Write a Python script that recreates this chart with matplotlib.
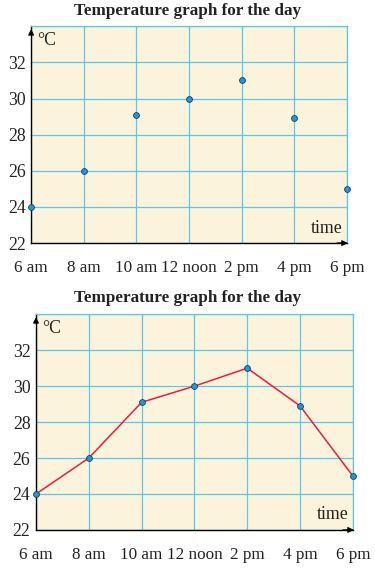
import matplotlib
matplotlib.use("Agg")
import matplotlib.pyplot as plt

# data
times = ["6 am", "8 am", "10 am", "12 noon", "2 pm", "4 pm", "6 pm"]
temps = [24, 26, 29.1, 30, 31, 28.9, 25]
y_ticks = [22, 24, 26, 28, 30, 32]
title = "Temperature graph for the day"

plt.rcParams['font.family'] = ['Liberation Serif', 'DejaVu Serif']

bg = "#fcf3dc"
grid_c = "#5ec4ec"
dot_c = "#1f9ad6"
line_c = "#e5203c"
fs = 12.3


def draw_panel(ax, with_line):
   x = list(range(len(times)))
   ax.set_facecolor(bg)
   ax.set_xlim(0, len(times) - 1)
   ax.set_ylim(22, 34)
   ax.set_xticks(x)
   ax.set_xticklabels(times, fontsize=fs)
   ax.set_yticks(y_ticks + [34])
   ax.set_yticklabels([str(v) for v in y_ticks] + [""], fontsize=fs + 0.5)
   ax.tick_params(length=0, colors="#222222")
   ax.tick_params(axis="x", pad=12)
   ax.tick_params(axis="y", pad=4)
   ax.grid(True, color=grid_c, linewidth=0.9)
   ax.set_axisbelow(True)
   for s in ["top", "right"]:
      ax.spines[s].set_color(grid_c)
      ax.spines[s].set_linewidth(0.9)
   for s in ["left", "bottom"]:
      ax.spines[s].set_color("black")
      ax.spines[s].set_linewidth(1.0)
   if with_line:
      ax.plot(x, temps, color=line_c, linewidth=1.1, zorder=3, clip_on=False)
   ax.plot(x, temps, linestyle="none", marker="o", markersize=4.2,
           markerfacecolor=dot_c, markeredgecolor="#163a5c",
           markeredgewidth=0.6, zorder=4, clip_on=False)
   # axis arrows
   ax.annotate("", xy=(0, 1.0), xytext=(0, 0.95), xycoords="axes fraction",
               arrowprops=dict(arrowstyle="-|>", color="black", lw=1.0,
                               mutation_scale=8))
   ax.annotate("", xy=(1.012, 0), xytext=(0.96, 0), xycoords="axes fraction",
               arrowprops=dict(arrowstyle="-|>", color="black", lw=1.0,
                               mutation_scale=8))
   ax.text(0.02, 0.975, "°C", transform=ax.transAxes, fontsize=fs + 0.5,
           ha="left", va="top", color="#222222")
   ax.text(0.985, 0.03, "time", transform=ax.transAxes, fontsize=fs + 0.5,
           ha="right", va="bottom", color="#222222")


fig = plt.figure(figsize=(3.75, 5.83), dpi=100)
ax1 = fig.add_axes([0.083, 0.583, 0.842, 0.372])
ax2 = fig.add_axes([0.096, 0.091, 0.845, 0.370])
draw_panel(ax1, False)
draw_panel(ax2, True)
fig.text(0.5, 0.981, title, ha="center", va="center", fontsize=12.3,
         fontweight="bold", color="#222222")
fig.text(0.5, 0.489, title, ha="center", va="center", fontsize=12.3,
         fontweight="bold", color="#222222")

plt.savefig("out.png", dpi=100)
